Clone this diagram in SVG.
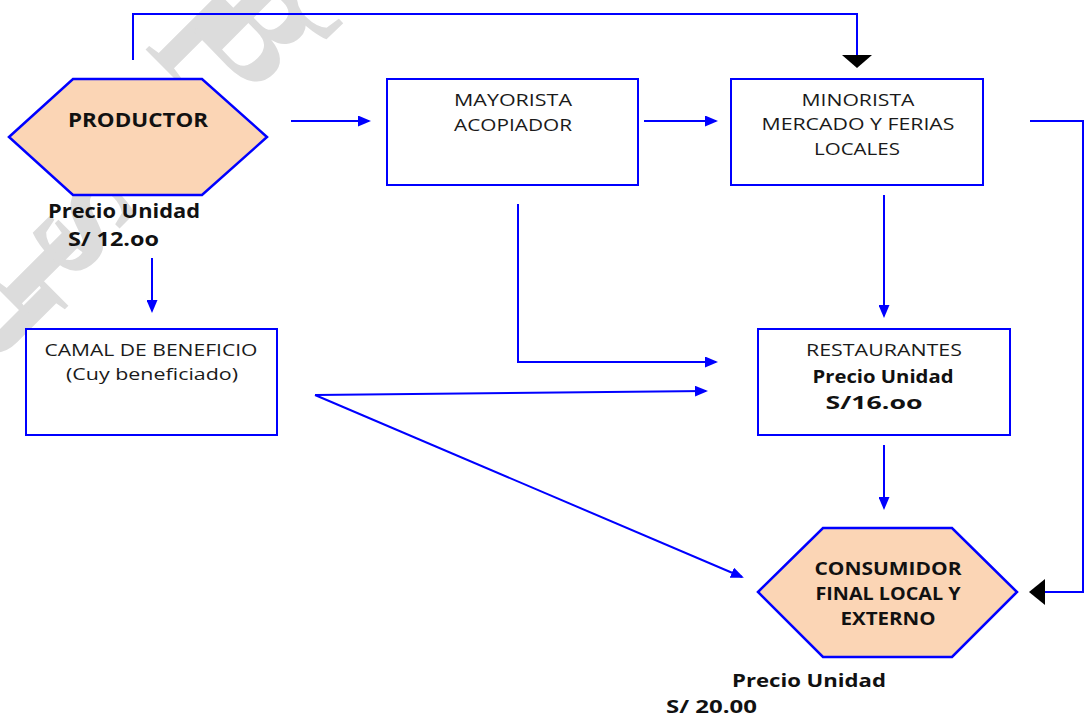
<svg xmlns="http://www.w3.org/2000/svg" width="1085" height="718" viewBox="0 0 1085 718">
  <style>
    .wm { font-family: "Liberation Serif", serif; font-size: 140px; font-weight: bold; fill: #dcdcdc; text-anchor: middle; }
    .hex { fill: #fbd5b5; stroke: #0000ff; stroke-width: 2.5; }
    .box { fill: #ffffff; stroke: #0000ff; stroke-width: 2; }
    .t { font-family: "Open Sans", "Liberation Sans", sans-serif; font-size: 15.5px; fill: #1a1a1a; text-anchor: middle; }
    .b { font-family: "Open Sans", "Liberation Sans", sans-serif; font-weight: bold; fill: #111111; }
    .c { text-anchor: middle; }
    .conn { fill: none; stroke: #0000ff; stroke-width: 2; }
    .head { fill: #000000; }
  </style>
  <defs>
    <marker id="arr" markerUnits="userSpaceOnUse" markerWidth="13" markerHeight="11" refX="11" refY="5.5" orient="auto">
      <path d="M0,0 L13,5.5 L0,11 z" fill="#0000ff"/>
    </marker>
  </defs>
  <rect x="0" y="0" width="1085" height="718" fill="#ffffff"/>

  <g id="watermark">
    <text class="wm" transform="translate(14,316) rotate(45)" x="0" y="46">J</text>
    <text class="wm" transform="translate(42,268) rotate(45)" x="0" y="46">I</text>
    <text class="wm" transform="translate(85,225) rotate(45)" x="0" y="46">S</text>
    <text class="wm" transform="translate(194,33) rotate(45)" x="0" y="46">I</text>
    <text class="wm" transform="translate(257,30) rotate(45)" x="0" y="46">B</text>
    <text class="wm" transform="translate(328,-18) rotate(45)" x="0" y="46">C</text>
  </g>

  <g id="connectors">
    <polyline class="conn" points="133,60 133,14 857,14 857,56"/>
    <polygon class="head" points="842,55 872,55 857,68"/>
    <polyline class="conn" points="1030,121 1083,121 1083,592 1044,592"/>
    <polygon class="head" points="1029,592 1045,579 1045,605"/>
    <line class="conn" x1="291" y1="121" x2="369" y2="121" marker-end="url(#arr)"/>
    <line class="conn" x1="644" y1="121" x2="716" y2="121" marker-end="url(#arr)"/>
    <line class="conn" x1="152" y1="258" x2="152" y2="311" marker-end="url(#arr)"/>
    <line class="conn" x1="884" y1="195" x2="884" y2="316" marker-end="url(#arr)"/>
    <polyline class="conn" points="518,204 518,362 716,362" marker-end="url(#arr)"/>
    <line class="conn" x1="315" y1="395" x2="706" y2="391" marker-end="url(#arr)"/>
    <line class="conn" x1="315" y1="395" x2="742" y2="577" marker-end="url(#arr)"/>
    <line class="conn" x1="884" y1="445" x2="884" y2="508" marker-end="url(#arr)"/>
  </g>

  <g id="productor">
    <polygon class="hex" points="9,137 73,79 202,79 267,137 202,195 73,195"/>
    <text class="b c" x="138" y="127" font-size="20" textLength="140" lengthAdjust="spacingAndGlyphs">PRODUCTOR</text>
    <text class="b" x="48" y="218" font-size="19" textLength="152" lengthAdjust="spacingAndGlyphs">Precio Unidad</text>
    <text class="b" x="68" y="246" font-size="19" textLength="91" lengthAdjust="spacingAndGlyphs">S/ 12.oo</text>
  </g>

  <g id="mayorista">
    <rect class="box" x="387" y="79" width="251" height="106"/>
    <text class="t" x="513" y="106" textLength="118" lengthAdjust="spacingAndGlyphs">MAYORISTA</text>
    <text class="t" x="513" y="131" textLength="118" lengthAdjust="spacingAndGlyphs">ACOPIADOR</text>
  </g>

  <g id="minorista">
    <rect class="box" x="731" y="79" width="252" height="106"/>
    <text class="t" x="858" y="106" textLength="113" lengthAdjust="spacingAndGlyphs">MINORISTA</text>
    <text class="t" x="858" y="130" textLength="193" lengthAdjust="spacingAndGlyphs">MERCADO Y FERIAS</text>
    <text class="t" x="857" y="155" textLength="86" lengthAdjust="spacingAndGlyphs">LOCALES</text>
  </g>

  <g id="camal">
    <rect class="box" x="26" y="329" width="251" height="106"/>
    <text class="t" x="151" y="356" textLength="213" lengthAdjust="spacingAndGlyphs">CAMAL DE BENEFICIO</text>
    <text class="t" x="152" y="380" textLength="172" lengthAdjust="spacingAndGlyphs">(Cuy beneficiado)</text>
  </g>

  <g id="restaurantes">
    <rect class="box" x="758" y="329" width="252" height="106"/>
    <text class="t" x="884" y="356" textLength="156" lengthAdjust="spacingAndGlyphs">RESTAURANTES</text>
    <text class="b c" x="883" y="383" font-size="17" textLength="141" lengthAdjust="spacingAndGlyphs">Precio Unidad</text>
    <text class="b c" x="874" y="409" font-size="17" textLength="97" lengthAdjust="spacingAndGlyphs">S/16.oo</text>
  </g>

  <g id="consumidor">
    <polygon class="hex" points="758,592 823,528 952,528 1017,592 952,657 823,657"/>
    <text class="b c" x="888" y="575" font-size="17" textLength="147" lengthAdjust="spacingAndGlyphs">CONSUMIDOR</text>
    <text class="b c" x="888" y="600" font-size="17" textLength="145" lengthAdjust="spacingAndGlyphs">FINAL LOCAL Y</text>
    <text class="b c" x="888" y="625" font-size="17" textLength="95" lengthAdjust="spacingAndGlyphs">EXTERNO</text>
    <text class="b" x="732" y="687" font-size="18.5" textLength="154" lengthAdjust="spacingAndGlyphs">Precio Unidad</text>
    <text class="b" x="666" y="713" font-size="18.5" textLength="91" lengthAdjust="spacingAndGlyphs">S/ 20.00</text>
  </g>
</svg>
